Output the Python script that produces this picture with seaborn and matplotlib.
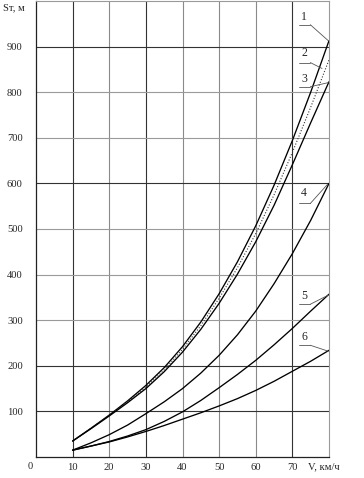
import matplotlib
matplotlib.use("Agg")
import matplotlib.pyplot as plt
import matplotlib.transforms as mtransforms
import seaborn as sns
import pandas as pd

# ---- data ----
speed = [10, 15, 20, 25, 30, 35, 40, 45, 50, 55, 60, 65, 70, 75, 80]
curve1 = [35, 63, 92, 123, 157, 196, 242, 296, 358, 428, 507, 596, 694, 800, 913]
curve2 = [35, 63, 91, 121, 153, 191, 236, 288, 348, 415, 490, 575, 668, 767, 871]
curve3 = [35, 62, 90, 119, 150, 187, 230, 280, 337, 401, 472, 552, 641, 733, 823]
curve4 = [15, 31, 49, 70, 95, 121, 150, 184, 223, 268, 320, 380, 446, 519, 600]
curve5 = [15, 24, 34, 46, 60, 78, 99, 124, 152, 181, 212, 246, 282, 320, 357]
curve6 = [15, 24, 33, 44, 56, 69, 83, 97, 112, 128, 146, 166, 188, 210, 234]
curve_names = ["1", "2", "3", "4", "5", "6"]
x_ticks = [10, 20, 30, 40, 50, 60, 70]
y_ticks = [100, 200, 300, 400, 500, 600, 700, 800, 900]
x_label = "V, км/ч"
y_label = "Sт, м"
# label anchor (text pos, underline y, leader end) in data units
label_text = [(73.2, 966), (73.2, 885), (73.2, 830), (73.2, 578), (73.2, 353), (73.2, 263)]
label_line_y = [948, 865, 812, 556, 335, 245]
label_target = [(79.8, 913), (78.1, 852), (79.8, 821), (79.6, 598), (79.8, 355), (79.8, 232)]

series = [curve1, curve2, curve3, curve4, curve5, curve6]
df = pd.DataFrame({
    "V": speed * 6,
    "S": sum(series, []),
    "curve": sum([[n] * len(speed) for n in curve_names], []),
})

sns.set_style("white")
plt.rcParams["font.family"] = ["Liberation Serif", "DejaVu Serif"]

fig = plt.figure(figsize=(3.64, 4.78), dpi=100)
ax = fig.add_axes([36 / 364, 21 / 478, 293 / 364, 456 / 478])

# grid
dark_x = {10, 30, 70}
dark_y = {100, 200, 600, 900}
for xv in x_ticks:
    ax.axvline(xv, color="#333333" if xv in dark_x else "#8a8a8a", lw=0.8, zorder=0)
for yv in y_ticks:
    ax.axhline(yv, color="#333333" if yv in dark_y else "#9a9a9a", lw=0.8, zorder=0)

dashes = {n: "" for n in curve_names}
dashes["2"] = (1, 1.6)
palette = {n: "black" for n in curve_names}
palette["2"] = "#333333"
sns.lineplot(data=df, x="V", y="S", hue="curve", style="curve",
             palette=palette, dashes=dashes,
             linewidth=0.95, legend=False, ax=ax, zorder=3)
for ln, name in zip(ax.lines[-6:], curve_names):
    if name == "2":
        ln.set_linewidth(0.8)

ax.set_xlim(0, 80)
ax.set_ylim(0, 1000)
ax.set_xticks(x_ticks)
ax.set_yticks(y_ticks)
ax.set_xticklabels([str(v) for v in x_ticks])
ax.set_yticklabels([str(v) for v in y_ticks])
ax.tick_params(axis="both", length=0, labelsize=7.6)
ax.tick_params(axis="y", pad=9.5)
ax.tick_params(axis="x", pad=4.5)
ax.set_xlabel("")
ax.set_ylabel("")

for side in ["left", "bottom"]:
    ax.spines[side].set_color("#222222")
    ax.spines[side].set_linewidth(0.9)
for side in ["top", "right"]:
    ax.spines[side].set_color("#9a9a9a")
    ax.spines[side].set_linewidth(0.8)

trans = mtransforms.blended_transform_factory(ax.transData, ax.transAxes)
ax.text(-1.6, -0.0215, "0", transform=trans, ha="center", va="center", fontsize=7.6,
        clip_on=False)
ax.text(78.6, -0.0215, x_label, transform=trans, ha="center", va="center",
        fontsize=7.6, clip_on=False)
fig.text(14 / 364, 1 - 8 / 478, y_label, ha="center", va="center", fontsize=7.6)

# curve labels with underline and leader line
for name, (tx, ty), ly, (ex, ey) in zip(curve_names, label_text, label_line_y, label_target):
    ax.text(tx, ty, name, ha="center", va="center", fontsize=8.5, zorder=5)
    ax.plot([71.8, 74.9], [ly, ly], color="#555555", lw=0.6, zorder=4)
    ax.plot([74.9, ex], [ly, ey], color="#555555", lw=0.6, zorder=4)

fig.savefig("out.png", dpi=100)
